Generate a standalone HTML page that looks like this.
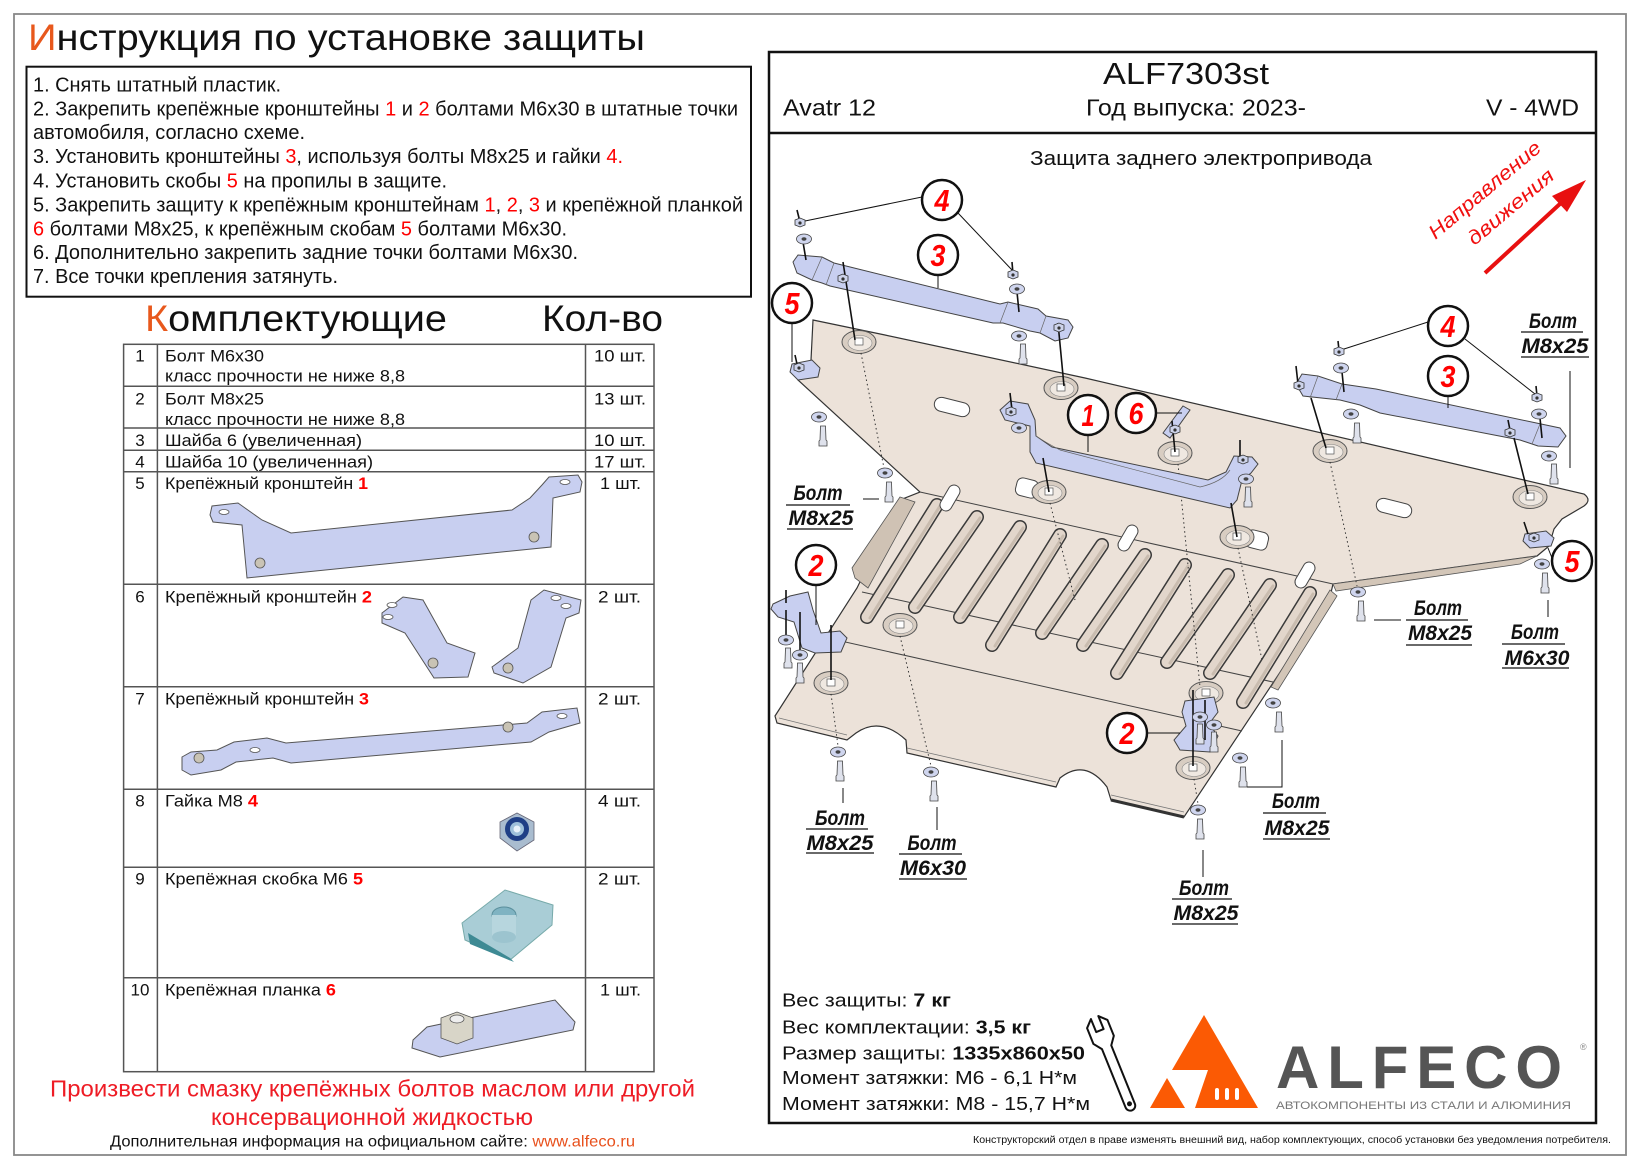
<!DOCTYPE html>
<html><head><meta charset="utf-8"><style>
html,body{margin:0;padding:0;background:#fff;}
svg{display:block;}
text{font-family:"Liberation Sans","DejaVu Sans",sans-serif;}
.bl{font-weight:bold;font-style:italic;font-size:21px;fill:#111;}
.num{font-weight:bold;font-style:italic;font-size:31px;fill:#f00;}
</style></head><body>
<svg width="1642" height="1168" viewBox="0 0 1642 1168" xmlns="http://www.w3.org/2000/svg">
<defs>
<g id="wa"><ellipse rx="7.5" ry="5" fill="#cfd5ee" stroke="#444" stroke-width=".8"/><ellipse rx="2.5" ry="1.7" fill="#444"/></g>
<g id="bo"><path d="M-2.5,-6 L2.5,-6 L3,8 L4,9 L4,14 L-4,14 L-4,9 L-3,8 Z" fill="#dfe2ec" stroke="#444" stroke-width=".8"/></g>
<g id="nu"><path d="M-5,-3 L0,-5 L5,-3 L5,2 L0,4 L-5,2 Z" fill="#cdd3ea" stroke="#333" stroke-width=".8"/><circle r="1.6" fill="#333"/></g>
<g id="well"><ellipse rx="17" ry="11.5" fill="#d8cdc2" stroke="#555" stroke-width="1"/><ellipse rx="12" ry="7.5" cx="1" cy="1" fill="#efe8e1" stroke="#888" stroke-width=".6"/><rect x="-4" y="-4" width="8" height="7" fill="#fff" stroke="#555" stroke-width=".7"/></g>
<g id="pill"><rect x="-6" y="-14" width="12" height="28" rx="6" fill="#fff" stroke="#444" stroke-width="1"/></g>
</defs>

<!-- outer border -->
<rect x="14" y="14" width="1612" height="1141" fill="none" stroke="#888" stroke-width="1.8"/>

<!-- Left heading -->
<text x="28" y="50" font-size="37" textLength="617" lengthAdjust="spacingAndGlyphs" fill="#111"><tspan fill="#e8581c">И</tspan>нструкция по установке защиты</text>

<!-- Instructions box -->
<rect x="26.5" y="66.7" width="724.5" height="230" fill="none" stroke="#111" stroke-width="2"/>
<g font-size="20" fill="#111">
<text x="33" y="91.7" textLength="248" lengthAdjust="spacingAndGlyphs">1. Снять штатный пластик.</text>
<text x="33" y="115.7" textLength="705" lengthAdjust="spacingAndGlyphs">2. Закрепить крепёжные кронштейны <tspan fill="#f00">1</tspan> и <tspan fill="#f00">2</tspan> болтами М6х30 в штатные точки</text>
<text x="33" y="139" textLength="272" lengthAdjust="spacingAndGlyphs">автомобиля, согласно схеме.</text>
<text x="33" y="163" textLength="590" lengthAdjust="spacingAndGlyphs">3. Установить кронштейны <tspan fill="#f00">3</tspan>, используя болты М8х25 и гайки <tspan fill="#f00">4.</tspan></text>
<text x="33" y="187.7" textLength="414" lengthAdjust="spacingAndGlyphs">4. Установить скобы <tspan fill="#f00">5</tspan> на пропилы в защите.</text>
<text x="33" y="211.7" textLength="710" lengthAdjust="spacingAndGlyphs">5. Закрепить защиту к крепёжным кронштейнам <tspan fill="#f00">1</tspan>, <tspan fill="#f00">2</tspan>, <tspan fill="#f00">3</tspan> и крепёжной планкой</text>
<text x="33" y="235.7" textLength="534" lengthAdjust="spacingAndGlyphs"><tspan fill="#f00">6</tspan> болтами М8х25, к крепёжным скобам <tspan fill="#f00">5</tspan> болтами М6х30.</text>
<text x="33" y="259" textLength="545" lengthAdjust="spacingAndGlyphs">6. Дополнительно закрепить задние точки болтами М6х30.</text>
<text x="33" y="283" textLength="305" lengthAdjust="spacingAndGlyphs">7. Все точки крепления затянуть.</text>
</g>

<!-- Комплектующие -->
<text x="145" y="331" font-size="37" textLength="302" lengthAdjust="spacingAndGlyphs" fill="#111"><tspan fill="#e8581c">К</tspan>омплектующие</text>
<text x="542" y="331" font-size="37" textLength="121" lengthAdjust="spacingAndGlyphs" fill="#111">Кол-во</text>

<!-- Table -->
<g stroke="#555" stroke-width="1.5" fill="none">
<rect x="123.6" y="344.3" width="530.4" height="727.4"/>
<line x1="157.4" y1="344.3" x2="157.4" y2="1071.7"/>
<line x1="585.5" y1="344.3" x2="585.5" y2="1071.7"/>
<line x1="123.6" y1="386.3" x2="654" y2="386.3"/>
<line x1="123.6" y1="428" x2="654" y2="428"/>
<line x1="123.6" y1="450.3" x2="654" y2="450.3"/>
<line x1="123.6" y1="471.7" x2="654" y2="471.7"/>
<line x1="123.6" y1="584.3" x2="654" y2="584.3"/>
<line x1="123.6" y1="686.7" x2="654" y2="686.7"/>
<line x1="123.6" y1="789.3" x2="654" y2="789.3"/>
<line x1="123.6" y1="867.3" x2="654" y2="867.3"/>
<line x1="123.6" y1="977.7" x2="654" y2="977.7"/>
</g>
<g font-size="17" fill="#111">
<text x="140" y="361.7" text-anchor="middle">1</text>
<text x="140" y="404.3" text-anchor="middle">2</text>
<text x="140" y="446" text-anchor="middle">3</text>
<text x="140" y="467.7" text-anchor="middle">4</text>
<text x="140" y="489" text-anchor="middle">5</text>
<text x="140" y="602.3" text-anchor="middle">6</text>
<text x="140" y="704.3" text-anchor="middle">7</text>
<text x="140" y="806.7" text-anchor="middle">8</text>
<text x="140" y="884.3" text-anchor="middle">9</text>
<text x="140" y="995.7" text-anchor="middle">10</text>

<text x="165" y="361.7" textLength="99" lengthAdjust="spacingAndGlyphs">Болт М6х30</text>
<text x="165" y="381.7" textLength="240" lengthAdjust="spacingAndGlyphs">класс прочности не ниже 8,8</text>
<text x="165" y="404.3" textLength="99" lengthAdjust="spacingAndGlyphs">Болт М8х25</text>
<text x="165" y="425" textLength="240" lengthAdjust="spacingAndGlyphs">класс прочности не ниже 8,8</text>
<text x="165" y="446" textLength="197" lengthAdjust="spacingAndGlyphs">Шайба 6 (увеличенная)</text>
<text x="165" y="467.7" textLength="208" lengthAdjust="spacingAndGlyphs">Шайба 10 (увеличенная)</text>
<text x="165" y="489" textLength="203" lengthAdjust="spacingAndGlyphs">Крепёжный кронштейн <tspan fill="#f00" font-weight="bold">1</tspan></text>
<text x="165" y="602.3" textLength="207" lengthAdjust="spacingAndGlyphs">Крепёжный кронштейн  <tspan fill="#f00" font-weight="bold">2</tspan></text>
<text x="165" y="704.3" textLength="204" lengthAdjust="spacingAndGlyphs">Крепёжный кронштейн <tspan fill="#f00" font-weight="bold">3</tspan></text>
<text x="165" y="806.7" textLength="93" lengthAdjust="spacingAndGlyphs">Гайка М8 <tspan fill="#f00" font-weight="bold">4</tspan></text>
<text x="165" y="884.3" textLength="198" lengthAdjust="spacingAndGlyphs">Крепёжная скобка М6 <tspan fill="#f00" font-weight="bold">5</tspan></text>
<text x="165" y="995.7" textLength="171" lengthAdjust="spacingAndGlyphs">Крепёжная планка <tspan fill="#f00" font-weight="bold">6</tspan></text>

<text x="594" y="361.7" textLength="52" lengthAdjust="spacingAndGlyphs">10 шт.</text>
<text x="594" y="404.3" textLength="52" lengthAdjust="spacingAndGlyphs">13 шт.</text>
<text x="594" y="446" textLength="52" lengthAdjust="spacingAndGlyphs">10 шт.</text>
<text x="594" y="467.7" textLength="52" lengthAdjust="spacingAndGlyphs">17 шт.</text>
<text x="600" y="489" textLength="41" lengthAdjust="spacingAndGlyphs">1 шт.</text>
<text x="598" y="602.3" textLength="43" lengthAdjust="spacingAndGlyphs">2 шт.</text>
<text x="598" y="704.3" textLength="43" lengthAdjust="spacingAndGlyphs">2 шт.</text>
<text x="598" y="806.7" textLength="43" lengthAdjust="spacingAndGlyphs">4 шт.</text>
<text x="598" y="884.3" textLength="43" lengthAdjust="spacingAndGlyphs">2 шт.</text>
<text x="600" y="995.7" textLength="41" lengthAdjust="spacingAndGlyphs">1 шт.</text>
</g>

<!-- table images -->
<g fill="#c8cff0" stroke="#555" stroke-width="1">
<polygon points="210,515 212,506 238,503 245,508 262,520 291,533 512,510 530,498 542,485 549,477 578,475 582,482 580,492 553,498 551,547 247,578 242,525 213,522"/>
<polygon points="382,613 403,597 423,600 447,643 475,653 468,677 434,678 405,633 382,623"/>
<polygon points="492,667 518,648 531,600 544,590 581,600 579,613 566,618 551,667 523,683 494,673"/>
<polygon points="182,757 191,752 217,750 234,742 267,738 286,743 527,723 542,712 577,708 580,723 549,732 531,742 291,763 273,758 236,762 221,770 191,775 182,770"/>
<polygon points="413,1040 427,1027 555,1000 575,1022 573,1030 440,1057 412,1048"/>
</g>
<g fill="#fff" stroke="#555" stroke-width=".8">
<ellipse cx="224" cy="512" rx="5" ry="2.5"/><ellipse cx="565" cy="482" rx="5" ry="2.5"/>
<ellipse cx="392" cy="605" rx="5" ry="2.5"/><ellipse cx="388" cy="617" rx="5" ry="2.5"/>
<ellipse cx="556" cy="598" rx="5" ry="2.5"/><ellipse cx="566" cy="606" rx="5" ry="2.5"/>
<ellipse cx="255" cy="750" rx="5" ry="2.5"/><ellipse cx="562" cy="716" rx="5" ry="2.5"/>
</g>
<g fill="#c9c3b4" stroke="#555" stroke-width=".8">
<circle cx="260" cy="563" r="5"/><circle cx="534" cy="537" r="5"/>
<circle cx="433" cy="663" r="5"/><circle cx="508" cy="668" r="5"/>
<circle cx="199" cy="758" r="5"/><circle cx="508" cy="727" r="5"/>
<path d="M441,1018 L457,1012 L473,1018 L473,1038 L457,1044 L441,1038 Z" fill="#d8d5c8"/>
<ellipse cx="457" cy="1019" rx="7" ry="4" fill="#eee"/>
</g>
<!-- nut -->
<path d="M500,838 L500,822 L517,813 L534,822 L534,840 L517,851 Z" fill="#a9bccf" stroke="#667" stroke-width=".8"/>
<circle cx="517" cy="829" r="12" fill="#1f3f86"/>
<circle cx="517" cy="829" r="7" fill="#9ec0da"/>
<circle cx="517" cy="829" r="3.5" fill="#e8f2fa"/>
<!-- clip -->
<polygon points="462,923 505,890 553,905 552,925 510,960 465,940" fill="#a9cdd6" stroke="#7aa" stroke-width="1"/>
<polygon points="468,933 510,958 514,962 470,944" fill="#3e8a94"/>
<ellipse cx="504" cy="915" rx="12" ry="8" fill="#7fb3c2" stroke="#5a8f9c"/>
<rect x="492" y="915" width="24" height="22" fill="#b7d6de"/>
<ellipse cx="504" cy="937" rx="12" ry="6" fill="#9cc4cf"/>

<!-- bottom left texts -->
<text x="50" y="1096.7" font-size="23" fill="#ee1c25" textLength="645" lengthAdjust="spacingAndGlyphs">Произвести смазку крепёжных болтов маслом или другой</text>
<text x="211" y="1125" font-size="23" fill="#ee1c25" textLength="322" lengthAdjust="spacingAndGlyphs">консервационной жидкостью</text>
<text x="110" y="1146.7" font-size="16" fill="#111" textLength="525" lengthAdjust="spacingAndGlyphs">Дополнительная информация на официальном сайте: <tspan fill="#e8501c">www.alfeco.ru</tspan></text>

<!-- right panel -->
<rect x="769" y="52" width="827" height="1071" fill="none" stroke="#111" stroke-width="2.5"/>
<line x1="769" y1="133" x2="1596" y2="133" stroke="#111" stroke-width="2.5"/>
<text x="1103" y="84" font-size="31" fill="#111" textLength="166" lengthAdjust="spacingAndGlyphs">ALF7303st</text>
<text x="783" y="115.7" font-size="23" fill="#111" textLength="93" lengthAdjust="spacingAndGlyphs">Avatr 12</text>
<text x="1086" y="115.7" font-size="23" fill="#111" textLength="220" lengthAdjust="spacingAndGlyphs">Год выпуска: 2023-</text>
<text x="1486" y="115.7" font-size="23" fill="#111" textLength="93" lengthAdjust="spacingAndGlyphs">V - 4WD</text>
<text x="1030" y="165" font-size="20" fill="#111" textLength="342" lengthAdjust="spacingAndGlyphs">Защита заднего электропривода</text>

<!-- direction -->
<g fill="#f01010" font-style="italic" font-size="20">
<text transform="translate(1489,195) rotate(-40)" text-anchor="middle" textLength="140" lengthAdjust="spacingAndGlyphs">Направление</text>
<text transform="translate(1515,212) rotate(-40)" text-anchor="middle" textLength="106" lengthAdjust="spacingAndGlyphs">движения</text>
</g>
<line x1="1485" y1="273" x2="1562" y2="202" stroke="#e81010" stroke-width="4"/>
<polygon points="1586,180 1567,212 1552,196" fill="#e81010"/>

<!-- ========== DIAGRAM ========== -->
<!-- plate -->
<path d="M813,320 L885,335 L1085,378 L1584,494 Q1592,500 1584,506 L1562,519 L1554,529 L1549,546 L1537,556 L1333,584 L1330,597 L1184,817 L1111,800 L1107,787 Q1085,758 1060,778 L1056,787 L907,753 L906,740 Q880,716 856,733 L847,740 L777,723 L775,716 L857,588 L900,500 L920,492 L798,380 L811,360 Z" fill="#ece2d9" stroke="#333" stroke-width="1.2"/>
<!-- flanges -->
<polygon points="900,497 915,502 868,588 855,578 852,568" fill="#cfc2b4" stroke="#555" stroke-width=".8"/>
<polygon points="1330,590 1337,596 1278,690 1271,687" fill="#d3c6b8" stroke="#555" stroke-width=".8"/>
<polygon points="1537,556 1333,584 1336,591 1520,564" fill="#d3c6b8" stroke="#555" stroke-width=".8"/>
<polyline points="1184,817 1111,800 M1056,787 907,753 M847,740 777,723" fill="none" stroke="#333" stroke-width="3"/>
<polyline points="1184,812 1111,795" fill="none" stroke="#777" stroke-width=".8"/>
<polyline points="1056,782 907,748" fill="none" stroke="#777" stroke-width=".8"/>
<polyline points="847,735 779,718" fill="none" stroke="#777" stroke-width=".8"/>
<!-- creases -->
<g stroke="#444" stroke-width="1" fill="none">
<line x1="920" y1="492" x2="1333" y2="584"/>
<line x1="862" y1="592" x2="1273" y2="682"/>
<line x1="823" y1="637" x2="1242" y2="731"/>
</g>
<!-- slots -->
<g stroke-linecap="round" fill="none">
<g stroke="#3a3a3a" stroke-width="14">
<path d="M937,505 L867,617"/><path d="M977,517 L915,607"/><path d="M1020,527 L960,617"/><path d="M1060,535 L992,645"/><path d="M1102,545 L1042,633"/><path d="M1145,555 L1083,645"/><path d="M1185,565 L1117,673"/><path d="M1228,575 L1167,662"/><path d="M1270,585 L1210,673"/><path d="M1310,593 L1243,702"/>
</g>
<g stroke="#e2d6cb" stroke-width="11">
<path d="M937,505 L867,617"/><path d="M977,517 L915,607"/><path d="M1020,527 L960,617"/><path d="M1060,535 L992,645"/><path d="M1102,545 L1042,633"/><path d="M1145,555 L1083,645"/><path d="M1185,565 L1117,673"/><path d="M1228,575 L1167,662"/><path d="M1270,585 L1210,673"/><path d="M1310,593 L1243,702"/>
</g>
<g stroke="#c9bcaf" stroke-width="3" transform="translate(3,1)">
<path d="M937,505 L867,617"/><path d="M977,517 L915,607"/><path d="M1020,527 L960,617"/><path d="M1060,535 L992,645"/><path d="M1102,545 L1042,633"/><path d="M1145,555 L1083,645"/><path d="M1185,565 L1117,673"/><path d="M1228,575 L1167,662"/><path d="M1270,585 L1210,673"/><path d="M1310,593 L1243,702"/>
</g>
</g>
<!-- holes -->
<use href="#pill" transform="translate(950,498) rotate(30)"/>
<use href="#pill" transform="translate(1128,538) rotate(30)"/>
<use href="#pill" transform="translate(1305,575) rotate(30)"/>
<rect x="-18" y="-7" width="36" height="14" rx="7" transform="translate(952,407) rotate(14)" fill="#fff" stroke="#444"/>
<rect x="-18" y="-7" width="36" height="14" rx="7" transform="translate(1394,508) rotate(14)" fill="#fff" stroke="#444"/>
<rect x="-11" y="-9" width="22" height="18" rx="6" transform="translate(1027,488) rotate(14)" fill="#fff" stroke="#444"/>
<rect x="-11" y="-9" width="22" height="18" rx="6" transform="translate(1257,540) rotate(14)" fill="#fff" stroke="#444"/>
<!-- wells -->
<use href="#well" x="859" y="342"/><use href="#well" x="1061" y="388"/><use href="#well" x="1049" y="492"/>
<use href="#well" x="1175" y="453"/><use href="#well" x="1237" y="537"/><use href="#well" x="1330" y="451"/>
<use href="#well" x="1530" y="497"/><use href="#well" x="900" y="625"/><use href="#well" x="831" y="683"/>
<use href="#well" x="1206" y="693"/><use href="#well" x="1193" y="768"/>
<!-- dotted -->
<g stroke="#333" stroke-width="1" stroke-dasharray="1.5 3" fill="none">
<line x1="861" y1="353" x2="884" y2="468"/>
<line x1="900" y1="636" x2="931" y2="766"/>
<line x1="831" y1="694" x2="838" y2="746"/>
<line x1="1178" y1="464" x2="1200" y2="687"/>
<line x1="1238" y1="548" x2="1262" y2="660"/>
<line x1="1330" y1="462" x2="1357" y2="586"/>
<line x1="1050" y1="503" x2="1075" y2="600"/>
<line x1="1194" y1="779" x2="1198" y2="804"/>
</g>

<!-- brackets -->
<g fill="#c8cff0" stroke="#444" stroke-width="1">
<polygon points="793,262 798,255 822,257 834,263 1000,304 1008,302 1038,309 1046,316 1068,320 1073,327 1068,338 1055,341 1040,333 1030,331 1003,323 993,323 830,286 822,283 812,280 797,273"/>
<polygon points="1296,384 1302,374 1318,376 1342,384 1376,389 1560,428 1566,436 1558,447 1538,446 1520,440 1380,413 1360,405 1340,400 1303,396"/>
<polygon points="1000,410 1010,401 1028,404 1035,420 1036,436 1052,447 1208,480 1226,472 1234,456 1252,457 1258,464 1251,473 1242,480 1237,500 1230,508 1036,463 1030,452 1030,426 1005,420"/>
<polygon points="773,604 790,596 808,592 813,610 821,633 840,631 847,638 841,652 815,653 802,648 794,622 778,617 771,609"/>
<polygon points="1185,701 1214,697 1218,712 1209,724 1218,736 1210,752 1180,750 1174,740 1186,726 1182,712"/>
<polygon points="1163,433 1183,406 1190,410 1170,438"/>
<polygon points="792,364 812,360 820,368 818,377 798,380 790,372"/>
<polygon points="1525,534 1546,531 1554,538 1551,546 1530,548 1523,541"/>
</g>
<g stroke="#666" stroke-width=".7" fill="none">
<line x1="822" y1="257" x2="812" y2="280"/><line x1="834" y1="263" x2="826" y2="285"/>
<line x1="1008" y1="302" x2="1000" y2="323"/><line x1="1046" y1="316" x2="1040" y2="333"/>
<line x1="1318" y1="376" x2="1310" y2="398"/><line x1="1342" y1="384" x2="1336" y2="400"/>
<line x1="1540" y1="424" x2="1532" y2="444"/>
<path d="M1036,436 Q1045,442 1060,450 L1200,487 Q1222,482 1230,470"/>
</g>
<!-- stems -->
<g stroke="#111" stroke-width="1.6" fill="none">
<line x1="797" y1="210" x2="800" y2="222"/><line x1="803" y1="242" x2="806" y2="260"/>
<line x1="843" y1="262" x2="855" y2="340"/>
<line x1="1012" y1="262" x2="1013" y2="274"/><line x1="1017" y1="292" x2="1019" y2="312"/>
<line x1="1058" y1="323" x2="1064" y2="386"/>
<line x1="1010" y1="393" x2="1012" y2="410"/><line x1="1043" y1="458" x2="1049" y2="492"/>
<line x1="1240" y1="440" x2="1240" y2="458"/><line x1="1231" y1="503" x2="1237" y2="537"/>
<line x1="1296" y1="366" x2="1298" y2="384"/><line x1="1311" y1="398" x2="1326" y2="448"/>
<line x1="1338" y1="341" x2="1339" y2="350"/><line x1="1342" y1="372" x2="1344" y2="392"/>
<line x1="1508" y1="420" x2="1510" y2="430"/><line x1="1514" y1="438" x2="1528" y2="494"/>
<line x1="1536" y1="386" x2="1537" y2="396"/><line x1="1540" y1="418" x2="1542" y2="438"/>
<line x1="1172" y1="421" x2="1175" y2="452"/>
<line x1="795" y1="355" x2="797" y2="364"/>
<line x1="1524" y1="522" x2="1528" y2="534"/>
<line x1="786" y1="590" x2="786" y2="603"/><line x1="786" y1="610" x2="786" y2="636"/>
<line x1="800" y1="612" x2="800" y2="651"/><line x1="831" y1="625" x2="831" y2="680"/>
<line x1="1193" y1="690" x2="1193" y2="766"/><line x1="1205" y1="700" x2="1205" y2="740"/>
</g>
<!-- nuts washers bolts -->
<use href="#nu" x="800" y="223"/><use href="#nu" x="1013" y="275"/><use href="#nu" x="1339" y="352"/><use href="#nu" x="1537" y="398"/>
<use href="#nu" x="843" y="279"/><use href="#nu" x="1059" y="328"/><use href="#nu" x="1299" y="386"/><use href="#nu" x="1510" y="433"/>
<use href="#nu" x="1011" y="412"/><use href="#nu" x="1243" y="460"/><use href="#nu" x="1175" y="430"/><use href="#nu" x="799" y="368"/><use href="#nu" x="1534" y="538"/>
<use href="#wa" x="804" y="239"/><use href="#wa" x="1017" y="289"/><use href="#wa" x="1019" y="336"/><use href="#wa" x="819" y="417"/>
<use href="#wa" x="885" y="473"/><use href="#wa" x="1246" y="479"/><use href="#wa" x="1019" y="428"/><use href="#wa" x="1341" y="368"/>
<use href="#wa" x="1351" y="414"/><use href="#wa" x="1539" y="414"/><use href="#wa" x="1549" y="456"/><use href="#wa" x="1542" y="564"/>
<use href="#wa" x="1358" y="592"/><use href="#wa" x="786" y="640"/><use href="#wa" x="800" y="655"/><use href="#wa" x="838" y="752"/>
<use href="#wa" x="931" y="772"/><use href="#wa" x="1273" y="703"/><use href="#wa" x="1240" y="758"/><use href="#wa" x="1198" y="810"/>
<use href="#wa" x="1200" y="717"/><use href="#wa" x="1214" y="725"/>
<use href="#bo" x="1023" y="350"/><use href="#bo" x="823" y="432"/><use href="#bo" x="889" y="488"/><use href="#bo" x="1248" y="493"/>
<use href="#bo" x="1357" y="429"/><use href="#bo" x="1554" y="470"/><use href="#bo" x="1545" y="579"/><use href="#bo" x="1361" y="607"/>
<use href="#bo" x="788" y="654"/><use href="#bo" x="800" y="669"/><use href="#bo" x="840" y="767"/><use href="#bo" x="934" y="787"/>
<use href="#bo" x="1279" y="718"/><use href="#bo" x="1243" y="773"/><use href="#bo" x="1200" y="825"/><use href="#bo" x="1200" y="730"/><use href="#bo" x="1214" y="738"/>

<!-- leader lines -->
<g stroke="#111" stroke-width="1" fill="none">
<line x1="805" y1="221" x2="922" y2="197"/><line x1="958" y1="213" x2="1012" y2="270"/>
<line x1="938" y1="275" x2="938" y2="288"/>
<line x1="792" y1="323" x2="792" y2="362"/>
<line x1="1088" y1="435" x2="1088" y2="452"/>
<line x1="1156" y1="413" x2="1182" y2="413"/>
<line x1="816" y1="585" x2="816" y2="625"/>
<line x1="1147" y1="733" x2="1180" y2="733"/>
<line x1="1344" y1="349" x2="1428" y2="322"/><line x1="1465" y1="339" x2="1535" y2="394"/>
<line x1="1448" y1="396" x2="1448" y2="408"/>
<line x1="1552" y1="558" x2="1548" y2="548"/>
<line x1="1570" y1="371" x2="1570" y2="468"/>
<line x1="863" y1="499" x2="879" y2="499"/>
<line x1="1374" y1="620" x2="1401" y2="620"/>
<line x1="1548" y1="600" x2="1548" y2="617"/>
<line x1="843" y1="788" x2="843" y2="803"/>
<line x1="937" y1="807" x2="937" y2="830"/>
<polyline points="1247,787 1282,787 1282,740"/>
<line x1="1203" y1="850" x2="1203" y2="877"/>
</g>

<!-- number circles -->
<g fill="#fff" stroke="#111" stroke-width="2.5">
<circle cx="942" cy="200" r="20"/><circle cx="938" cy="255" r="20"/><circle cx="792" cy="303" r="20"/>
<circle cx="1088" cy="415" r="20"/><circle cx="1136" cy="413" r="20"/><circle cx="816" cy="565" r="20"/>
<circle cx="1127" cy="733" r="20"/><circle cx="1448" cy="326" r="20"/><circle cx="1448" cy="376" r="20"/>
<circle cx="1572" cy="561" r="20"/>
</g>
<g class="num" text-anchor="middle">
<text x="942" y="211" textLength="15" lengthAdjust="spacingAndGlyphs">4</text>
<text x="938" y="266" textLength="15" lengthAdjust="spacingAndGlyphs">3</text>
<text x="792" y="314" textLength="15" lengthAdjust="spacingAndGlyphs">5</text>
<text x="1088" y="426" textLength="13" lengthAdjust="spacingAndGlyphs">1</text>
<text x="1136" y="424" textLength="15" lengthAdjust="spacingAndGlyphs">6</text>
<text x="816" y="576" textLength="15" lengthAdjust="spacingAndGlyphs">2</text>
<text x="1127" y="744" textLength="15" lengthAdjust="spacingAndGlyphs">2</text>
<text x="1448" y="337" textLength="15" lengthAdjust="spacingAndGlyphs">4</text>
<text x="1448" y="387" textLength="15" lengthAdjust="spacingAndGlyphs">3</text>
<text x="1572" y="572" textLength="15" lengthAdjust="spacingAndGlyphs">5</text>
</g>

<!-- bolt labels -->
<g class="bl" text-anchor="middle">
<text x="1553" y="328" textLength="48" lengthAdjust="spacingAndGlyphs">Болт</text>
<text x="1555" y="353" textLength="67" lengthAdjust="spacingAndGlyphs">M8x25</text>
<text x="818" y="500" textLength="49" lengthAdjust="spacingAndGlyphs">Болт</text>
<text x="821" y="525" textLength="65" lengthAdjust="spacingAndGlyphs">M8x25</text>
<text x="1438" y="615" textLength="48" lengthAdjust="spacingAndGlyphs">Болт</text>
<text x="1440" y="640" textLength="64" lengthAdjust="spacingAndGlyphs">M8x25</text>
<text x="1535" y="639" textLength="48" lengthAdjust="spacingAndGlyphs">Болт</text>
<text x="1537" y="665" textLength="65" lengthAdjust="spacingAndGlyphs">M6x30</text>
<text x="840" y="825" textLength="50" lengthAdjust="spacingAndGlyphs">Болт</text>
<text x="840" y="850" textLength="67" lengthAdjust="spacingAndGlyphs">M8x25</text>
<text x="932" y="850" textLength="49" lengthAdjust="spacingAndGlyphs">Болт</text>
<text x="933" y="875" textLength="66" lengthAdjust="spacingAndGlyphs">M6x30</text>
<text x="1296" y="808" textLength="48" lengthAdjust="spacingAndGlyphs">Болт</text>
<text x="1297" y="835" textLength="65" lengthAdjust="spacingAndGlyphs">M8x25</text>
<text x="1204" y="895" textLength="50" lengthAdjust="spacingAndGlyphs">Болт</text>
<text x="1206" y="920" textLength="65" lengthAdjust="spacingAndGlyphs">M8x25</text>
</g>
<g stroke="#111" stroke-width="1.3">
<line x1="1521" y1="332" x2="1583" y2="332"/><line x1="1521" y1="357" x2="1589" y2="357"/>
<line x1="786" y1="505" x2="850" y2="505"/><line x1="787" y1="529" x2="853" y2="529"/>
<line x1="1406" y1="620" x2="1468" y2="620"/><line x1="1406" y1="645" x2="1472" y2="645"/>
<line x1="1502" y1="644" x2="1565" y2="644"/><line x1="1502" y1="668" x2="1569" y2="668"/>
<line x1="806" y1="829" x2="868" y2="829"/><line x1="806" y1="853" x2="874" y2="853"/>
<line x1="899" y1="854" x2="962" y2="854"/><line x1="899" y1="879" x2="967" y2="879"/>
<line x1="1263" y1="813" x2="1326" y2="813"/><line x1="1263" y1="839" x2="1330" y2="839"/>
<line x1="1172" y1="899" x2="1232" y2="899"/><line x1="1172" y1="924" x2="1238" y2="924"/>
</g>

<!-- specs -->
<g font-size="18" fill="#111">
<text x="782" y="1006.7" textLength="169" lengthAdjust="spacingAndGlyphs">Вес защиты: <tspan font-weight="bold">7 кг</tspan></text>
<text x="782" y="1033.3" textLength="249" lengthAdjust="spacingAndGlyphs">Вес комплектации: <tspan font-weight="bold">3,5 кг</tspan></text>
<text x="782" y="1059.3" textLength="303" lengthAdjust="spacingAndGlyphs">Размер защиты: <tspan font-weight="bold">1335x860x50</tspan></text>
<text x="782" y="1084" textLength="295" lengthAdjust="spacingAndGlyphs">Момент затяжки: М6 - 6,1 Н*м</text>
<text x="782" y="1110" textLength="308" lengthAdjust="spacingAndGlyphs">Момент затяжки: М8 - 15,7 Н*м</text>
</g>
<!-- wrench -->
<g transform="translate(1113,1063) rotate(-22) translate(0,-45)">
<path d="M-5,28 L-5,91 A5,5 0 0 0 5,91 L5,28 L11,20 L11,3 L4,-4 L4,10 L-4,10 L-4,-4 L-11,3 L-11,20 Z" fill="#fff" stroke="#111" stroke-width="2" stroke-linejoin="round"/>
<circle cx="0" cy="89" r="2.5" fill="#111"/>
</g>
<!-- logo -->
<polygon points="1204,1015 1258,1108 1195,1108 1208,1070 1172,1070" fill="#fb5a04"/>
<polygon points="1167,1078 1150,1108 1185,1108" fill="#fb5a04"/>
<g fill="#fff"><rect x="1215" y="1088" width="4" height="12" rx="2"/><rect x="1225" y="1088" width="4" height="12" rx="2"/><rect x="1235" y="1088" width="4" height="12" rx="2"/></g>
<text x="1276" y="1088" font-size="60" font-weight="bold" fill="#555" textLength="286" lengthAdjust="spacing">ALFECO</text>
<text x="1580" y="1050" font-size="9" fill="#888">®</text>
<text x="1276" y="1109" font-size="11" fill="#777" textLength="295" lengthAdjust="spacingAndGlyphs">АВТОКОМПОНЕНТЫ ИЗ СТАЛИ И АЛЮМИНИЯ</text>

<!-- footer -->
<text x="973" y="1143" font-size="10" fill="#111" textLength="638" lengthAdjust="spacingAndGlyphs">Конструкторский отдел в праве изменять внешний вид, набор комплектующих, способ установки без уведомления потребителя.</text>
</svg>
</body></html>
